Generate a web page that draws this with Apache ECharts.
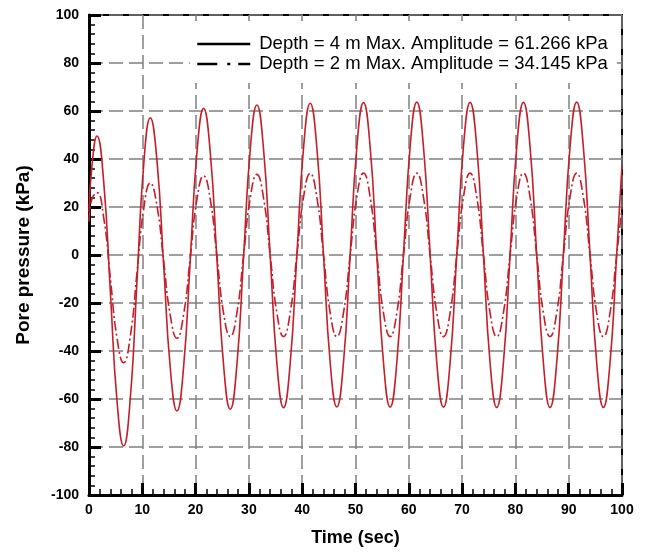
<!DOCTYPE html>
<html>
<head>
<meta charset="utf-8">
<script src="https://cdn.jsdelivr.net/npm/echarts@6/dist/echarts.min.js"></script>
<style>
  html, body { margin: 0; padding: 0; background: #fff; }
  #chart { width: 649px; height: 553px; }
</style>
</head>
<body>
<div id="chart"></div>
<script>
// time samples (sec)
var times = [0, 0.5,
  1.5, 2.75, 4, 5.25, 6.5, 7.75, 9, 10.25,
  11.5, 12.75, 14, 15.25, 16.5, 17.75, 19, 20.25,
  21.5, 22.75, 24, 25.25, 26.5, 27.75, 29, 30.25,
  31.5, 32.75, 34, 35.25, 36.5, 37.75, 39, 40.25,
  41.5, 42.75, 44, 45.25, 46.5, 47.75, 49, 50.25,
  51.5, 52.75, 54, 55.25, 56.5, 57.75, 59, 60.25,
  61.5, 62.75, 64, 65.25, 66.5, 67.75, 69, 70.25,
  71.5, 72.75, 74, 75.25, 76.5, 77.75, 79, 80.25,
  81.5, 82.75, 84, 85.25, 86.5, 87.75, 89, 90.25,
  91.5, 92.75, 94, 95.25, 96.5, 97.75, 99, 100];

// depth = 4 m (kPa)
var depth4 = [18, 36,
  49.6, 30.7, -15.0, -60.7, -79.6, -59.6, -11.2, 37.2,
  57.2, 39.3, -3.9, -47.1, -65.0, -46.6, -2.0, 42.6,
  61.1, 42.7, -1.6, -45.9, -64.3, -45.7, -0.9, 43.9,
  62.5, 44.0, -0.5, -45.1, -63.6, -45.0, -0.2, 44.6,
  63.2, 44.7, 0.0, -44.8, -63.3, -44.7, 0.1, 44.9,
  63.5, 44.9, 0.0, -44.8, -63.4, -44.8, 0.2, 45.1,
  63.7, 45.1, 0.2, -44.8, -63.4, -44.8, 0.1, 45.0,
  63.6, 45.0, 0.0, -44.9, -63.5, -44.9, 0.0, 45.0,
  63.6, 45.0, 0.0, -44.9, -63.5, -44.9, 0.1, 45.0,
  63.7, 45.0, 0.1, -44.9, -63.5, -44.9, 0.1, 37.3];

// depth = 2 m (kPa)
var depth2 = [14, 23,
  26.0, 15.6, -9.5, -34.5, -44.9, -33.9, -7.5, 19.0,
  30.0, 20.5, -2.4, -25.2, -34.7, -24.8, -0.9, 23.1,
  33.0, 23.2, -0.5, -24.2, -34.0, -24.1, -0.2, 23.7,
  33.6, 23.7, -0.2, -24.1, -34.0, -24.0, 0.0, 24.0,
  34.0, 24.0, 0.0, -24.0, -34.0, -24.0, 0.0, 24.1,
  34.1, 24.1, 0.0, -24.1, -34.0, -24.1, 0.0, 24.1,
  34.1, 24.1, 0.0, -24.1, -34.0, -24.1, 0.0, 24.1,
  34.1, 24.1, 0.0, -24.1, -34.0, -24.1, 0.0, 24.1,
  34.1, 24.1, 0.0, -24.1, -34.0, -24.1, 0.0, 24.1,
  34.1, 24.1, 0.0, -24.1, -34.0, -24.1, 0.0, 20.0];

var names = ['Depth = 4 m Max. Amplitude = 61.266 kPa', 'Depth = 2 m Max. Amplitude = 34.145 kPa'];

function pairs(xs, ys) {
    var out = [];
    for (var i = 0; i < xs.length; i++) {
        out.push([xs[i], ys[i]]);
    }
    return out;
}

var font = 'Arial, "Liberation Sans", sans-serif';
var red = '#c41e2a';
var gridLine = { show: true, lineStyle: { color: '#808080', width: 1.5, type: [14, 6] } };

var chart = echarts.init(document.getElementById('chart'));
var option = {
    animation: false,
    backgroundColor: '#fff',
    grid: {
        left: 89, right: 27, top: 15, bottom: 58,
        show: true, borderColor: '#000', borderWidth: 2
    },
    legend: {
        orient: 'vertical',
        left: 190, top: 21,
        padding: [13, 9, 9, 6],
        backgroundColor: '#ffffff',
        z: 10,
        itemWidth: 53, itemHeight: 20, itemGap: 0,
        textStyle: { fontFamily: font, fontSize: 18.5, color: '#000', lineHeight: 20, padding: [0, 0, 0, 4] },
        data: [
            { name: names[0], lineStyle: { color: '#000', width: 2.5 }, itemStyle: { opacity: 0 } },
            { name: names[1], lineStyle: { color: '#000', width: 2.5, type: [20, 10, 3, 8] }, itemStyle: { opacity: 0 } }
        ]
    },
    xAxis: {
        type: 'value', min: 0, max: 100, interval: 10,
        name: 'Time (sec)', nameLocation: 'middle', nameGap: 34,
        nameTextStyle: { fontFamily: font, fontSize: 18, fontWeight: 'bold', color: '#000' },
        axisLine: { show: true, onZero: false, lineStyle: { color: '#000', width: 3 } },
        axisTick: { show: true, inside: true, length: 12, lineStyle: { color: '#000', width: 3 } },
        minorTick: { show: true, splitNumber: 5, length: 6, lineStyle: { color: '#000', width: 1.5 } },
        axisLabel: { fontFamily: font, fontSize: 14, fontWeight: 'bold', color: '#000', margin: 8 },
        splitLine: gridLine
    },
    yAxis: {
        type: 'value', min: -100, max: 100, interval: 20,
        name: 'Pore pressure (kPa)', nameLocation: 'middle', nameGap: 56, nameRotate: 90,
        nameTextStyle: { fontFamily: font, fontSize: 19, fontWeight: 'bold', color: '#000' },
        axisLine: { show: true, onZero: false, lineStyle: { color: '#000', width: 3 } },
        axisTick: { show: true, inside: true, length: 12, lineStyle: { color: '#000', width: 3 } },
        minorTick: { show: true, splitNumber: 5, length: 6, lineStyle: { color: '#000', width: 1.5 } },
        axisLabel: { fontFamily: font, fontSize: 14, fontWeight: 'bold', color: '#000', margin: 10 },
        splitLine: gridLine
    },
    series: [
        {
            name: names[0], type: 'line', smooth: 0.5, symbol: 'none',
            lineStyle: { color: red, width: 1.6, type: 'solid' },
            itemStyle: { color: red },
            data: pairs(times, depth4)
        },
        {
            name: names[1], type: 'line', smooth: 0.5, symbol: 'none',
            lineStyle: { color: red, width: 1.6, type: [10, 3, 2, 3] },
            itemStyle: { color: red },
            data: pairs(times, depth2)
        }
    ]
};
chart.setOption(option);
</script>
</body>
</html>
